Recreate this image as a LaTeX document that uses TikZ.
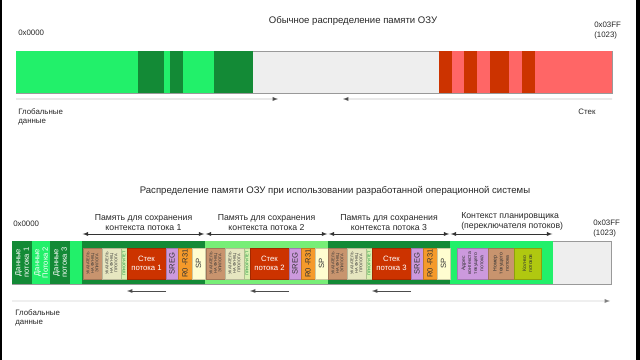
\documentclass[tikz,border=0pt]{standalone}
\usepackage{fontspec}
\setmainfont{Liberation Sans}
\usetikzlibrary{arrows,fit}

\definecolor{memgreen}{HTML}{22F06A}
\definecolor{memdark}{HTML}{138A36}
\definecolor{memgray}{HTML}{EEEEEE}
\definecolor{memred}{HTML}{CC3300}
\definecolor{mempink}{HTML}{FF6666}
\definecolor{ctxlight}{HTML}{77EE77}
\definecolor{itbrown}{HTML}{C8946E}
\definecolor{itpale}{HTML}{E6E6C0}
\definecolor{itprio}{HTML}{D8F0B0}
\definecolor{itpurple}{HTML}{CC99DD}
\definecolor{itorange}{HTML}{F59A2A}
\definecolor{itcream}{HTML}{FFFDD0}
\definecolor{itolive}{HTML}{B0C810}

\begin{document}
\begin{tikzpicture}[x=0.025cm,y=-0.025cm,
  seg/.style={inner sep=0pt,outer sep=0pt},
  box/.style={inner sep=0pt,outer sep=0pt,fill=#1,draw=#1!80!black,line width=0.25pt},
  txttiny/.style={rotate=90,align=center,inner sep=0pt,font=\fontsize{2.8}{3.2}\selectfont,text=black!80},
  vert/.style={rotate=90,align=center,inner sep=0pt,font=\fontsize{5.4}{6}\selectfont},
  txtsmall/.style={align=left,inner sep=0pt,font=\fontsize{5.6}{6.6}\selectfont,text=black!85},
  ttl/.style={inner sep=0pt,font=\fontsize{6.8}{8}\selectfont,text=black!85},
  dim/.style={latex-latex,line width=0.35pt,black!80,shorten <=0.5pt,shorten >=0.5pt},
  flow/.style={-latex,line width=0.35pt,black!70}]
\useasboundingbox (0,0) rectangle (640,360);
\fill[black] (0,0) rectangle (2.5,360);
\fill[black] (636,0) rectangle (640,360);

% usual RAM layout
\node[ttl] (title1) at (353,21) {Обычное распределение памяти ОЗУ};
\node[txtsmall,anchor=west] (adr0) at (18,33) {0x0000};
\node[txtsmall,anchor=north west] (adrF) at (594,22) {0x03FF\\(1023)};
\node[seg,fit={(16,51) (612,93)},fill=memgray,draw=black!40,line width=0.4pt] (ram) {};
\fill[memgreen] (16,51) rectangle (214,93);
\foreach \a/\b in {138/164,170/183,214/253} \fill[memdark] (\a,51) rectangle (\b,93);
\fill[mempink] (439,51) rectangle (612,93);
\foreach \a/\b in {439/452,464/477,490/509,522/535} \fill[memred] (\a,51) rectangle (\b,93);
\coordinate (heapEnd) at (278,99);
\coordinate (stackEnd) at (343,99);
\draw[flow] ([yshift=-0.15cm]ram.south west) -- (heapEnd);
\draw[flow] ([yshift=-0.15cm]ram.south east) -- (stackEnd);
\node[txtsmall,anchor=north west] (glob1) at (18,108) {Глобальные\\данные};
\node[txtsmall] (stk) at (587,112) {Стек};

% RAM layout with the OS
\node[ttl] (title2) at (335,191) {Распределение памяти ОЗУ при использовании разработанной операционной системы};
\node[txtsmall,anchor=west] (adr0b) at (13,224) {0x0000};
\node[txtsmall,anchor=north west] (adrFb) at (593,220) {0x03FF\\(1023)};
\node[seg,fit={(12,241) (611,284)},fill=memgray,draw=black!40,line width=0.4pt] (os) {};
\node[seg,fit={(12,241) (32,284)},fill=memdark] (d1) {};
\node[seg,fit={(32,241) (50,284)},fill=memgreen] (d2) {};
\node[seg,fit={(50,241) (70,284)},fill=memdark] (d3) {};
\node[seg,fit={(70,241) (82,284)},fill=memgreen] (gap) {};
\node[seg,fit={(82,241) (205,284)},fill=memdark] (ctx1) {};
\node[seg,fit={(205,241) (328,284)},fill=ctxlight] (ctx2) {};
\node[seg,fit={(328,241) (450,284)},fill=memdark] (ctx3) {};
\node[seg,fit={(450,241) (553,284)},fill=memgreen] (sched) {};
\node[vert,text=white] (d1t) at (d1) {Данные\\потока 1};
\node[vert,text=white] (d2t) at (d2) {Данные\\Потока 2};
\node[vert,text=white] (d3t) at (d3) {Данные\\потока 3};

\foreach \i/\x in {1/83,2/206,3/328}{
  \node[box=itbrown,fit={(\x,248) (\x+19,279)}] (ep\i) {};
  \node[box=itpale,fit={(\x+19,248) (\x+38,279)}] (pr\i) {};
  \node[box=itprio,fit={(\x+38,248) (\x+44,279)}] (pri\i) {};
  \node[box=memred,fit={(\x+44,248) (\x+83,279)}] (st\i) {};
  \node[box=itpurple,fit={(\x+83,248) (\x+95,279)}] (sr\i) {};
  \node[box=itorange,fit={(\x+95,248) (\x+109,279)}] (rg\i) {};
  \node[box=itcream,fit={(\x+109,248) (\x+122,279)}] (sp\i) {};
  \node[txttiny] (ept\i) at (ep\i) {УКАЗАТЕЛЬ\\НА ФУНКЦ\\ЭПИЛОГА};
  \node[txttiny] (prt\i) at (pr\i) {УКАЗАТЕЛЬ\\НА ФУНКЦ\\ПРОЛОГА};
  \node[txttiny,text=memdark] (prit\i) at (pri\i) {ПРИОРИТЕТ};
  \node[align=center,inner sep=0pt,text=white,font=\fontsize{5.5}{6.8}\selectfont] (stt\i) at (st\i) {Стек\\потока \i};
  \node[vert,text=black!80] (srt\i) at (sr\i) {SREG};
  \node[vert,text=black!80] (rgt\i) at (rg\i) {R0 -R31};
  \node[vert,text=black!80] (spt\i) at (sp\i) {SP};
  \draw[flow] ([yshift=-0.3cm]st\i.south east) -- ([yshift=-0.3cm]st\i.south west);
  \draw[dim] ([yshift=0.175cm]ctx\i.north west) -- ([yshift=0.175cm]ctx\i.north east);
  \node[txtsmall,align=center,anchor=south,font=\fontsize{6.2}{7.2}\selectfont] (lb\i) at ([yshift=0.25cm]ctx\i.north) {Память для сохранения\\контекста потока \i};
}

% scheduler context
\node[box=itpurple,fit={(457,248) (488,279)}] (cadr) {};
\node[box=itbrown,fit={(488,248) (514,279)}] (ccur) {};
\node[box=itolive,fit={(514,248) (541,279)}] (ccnt) {};
\node[txttiny,font=\fontsize{3.6}{4.3}\selectfont] (cadrt) at (cadr) {Адрес\\контекста\\текущего\\потока};
\node[txttiny,font=\fontsize{3.6}{4.3}\selectfont] (ccurt) at (ccur) {Номер\\текущего\\потока};
\node[txttiny,font=\fontsize{3.6}{4.3}\selectfont] (ccntt) at (ccnt) {Кол-во\\потоков};
\draw[dim] ([yshift=0.175cm]sched.north west) -- ([yshift=0.175cm]sched.north east);
\node[txtsmall,anchor=south west,font=\fontsize{6.2}{7.2}\selectfont] (lbs) at (461,231) {Контекст планировщика\\(переключателя потоков)};

\coordinate (osEnd) at (610,301);
\draw[flow,black!50] ([yshift=-0.425cm]os.south west) -- (osEnd);
\node[txtsmall,anchor=north west] (glob2) at (15,309) {Глобальные\\данные};
\end{tikzpicture}
\end{document}
